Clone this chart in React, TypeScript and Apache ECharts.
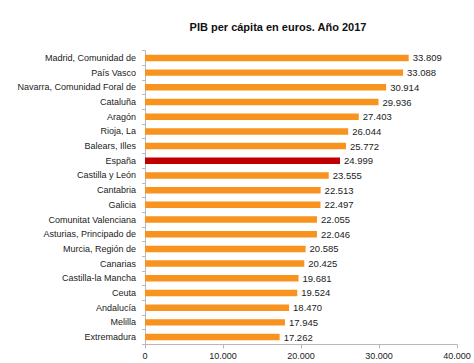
import React, { useEffect, useRef } from "react";
import * as echarts from "echarts";

const title = "PIB per cápita en euros. Año 2017";
const regions = [
  "Madrid, Comunidad de",
  "País Vasco",
  "Navarra, Comunidad Foral de",
  "Cataluña",
  "Aragón",
  "Rioja, La",
  "Balears, Illes",
  "España",
  "Castilla y León",
  "Cantabria",
  "Galicia",
  "Comunitat Valenciana",
  "Asturias, Principado de",
  "Murcia, Región de",
  "Canarias",
  "Castilla-la Mancha",
  "Ceuta",
  "Andalucía",
  "Melilla",
  "Extremadura",
];
const pib = [
  33809, 33088, 30914, 29936, 27403, 26044, 25772, 24999, 23555, 22513, 22497,
  22055, 22046, 20585, 20425, 19681, 19524, 18470, 17945, 17262,
];
const highlighted = ["España"];
const xTicks = [0, 10000, 20000, 30000, 40000];

const fmt = (v: number) =>
  String(Math.round(v)).replace(/\B(?=(\d{3})+(?!\d))/g, ".");

export default function App() {
  const ref = useRef<HTMLDivElement>(null);
  useEffect(() => {
    if (!ref.current) return;
    const chart = echarts.init(ref.current, undefined, { renderer: "svg" });
    const font = "Liberation Sans, Arial, sans-serif";
    chart.setOption({
      animation: false,
      textStyle: { fontFamily: font },
      title: {
        text: title,
        left: 273,
        textAlign: "center",
        top: 16,
        textStyle: { fontSize: 11, fontWeight: "bold", color: "#111", fontFamily: font },
      },
      grid: { left: 145, right: 17, top: 50.6, bottom: 18.6, containLabel: false },
      xAxis: {
        type: "value",
        min: xTicks[0],
        max: xTicks[xTicks.length - 1],
        interval: 10000,
        axisLine: { show: true, lineStyle: { color: "#b8b8b8" } },
        axisTick: { show: true, length: 4, lineStyle: { color: "#b8b8b8" } },
        splitLine: { show: false },
        axisLabel: {
          formatter: (v: number) => fmt(v),
          fontSize: 9,
          color: "#222",
          margin: 7,
          fontFamily: font,
        },
      },
      yAxis: {
        type: "category",
        data: regions,
        inverse: true,
        axisLine: { show: true, lineStyle: { color: "#b8b8b8" } },
        axisTick: { show: true, length: 3, lineStyle: { color: "#b8b8b8" } },
        axisLabel: { fontSize: 9, color: "#222", margin: 9, fontFamily: font },
      },
      series: [
        {
          type: "bar",
          data: pib.map((v, i) => ({
            value: v,
            itemStyle: {
              color: highlighted.includes(regions[i]) ? "#C00000" : "#F7931E",
            },
          })),
          barWidth: "44%",
          label: {
            show: true,
            position: "right",
            distance: 4,
            formatter: (p: any) => fmt(p.value),
            fontSize: 9.5,
            color: "#222",
            fontFamily: font,
          },
        },
      ],
    });
    return () => chart.dispose();
  }, []);
  return (
    <div
      ref={ref}
      style={{ width: 474, height: 363, position: "absolute", left: 0, top: 0 }}
    />
  );
}
